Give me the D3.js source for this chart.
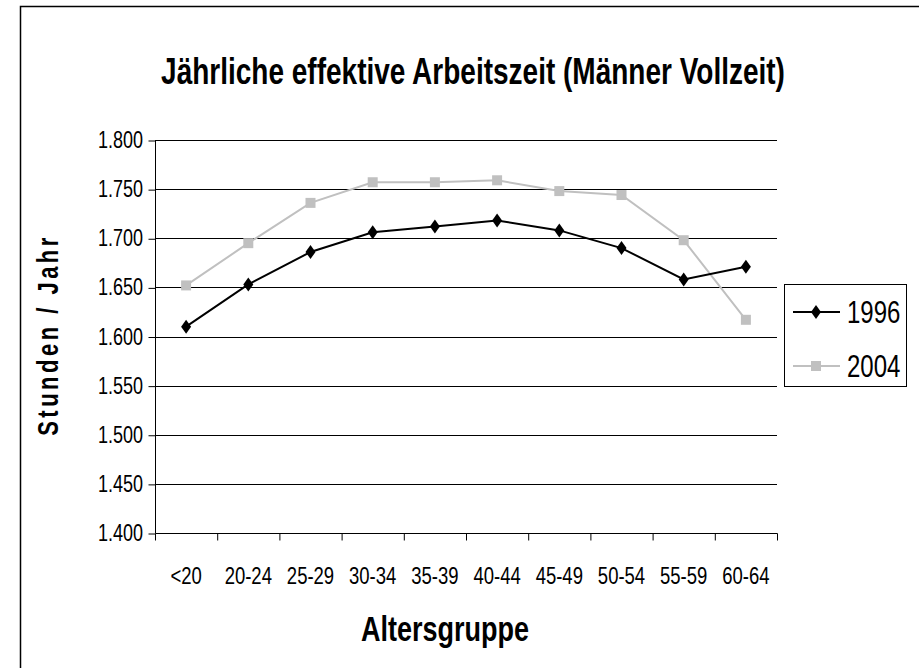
<!DOCTYPE html>
<html>
<head>
<meta charset="utf-8">
<script src="https://cdn.jsdelivr.net/npm/d3@7"></script>
<style>
  body { margin: 0; background: #fff; }
  text { font-family: "Liberation Sans", Arial, sans-serif; fill: #000; }
</style>
</head>
<body>
<svg id="chart" width="919" height="668"></svg>
<script>
// Daten
const ageGroups = ["<20", "20-24", "25-29", "30-34", "35-39", "40-44", "45-49", "50-54", "55-59", "60-64"];
const hours1996 = [1610, 1653, 1686, 1706, 1712, 1718, 1708, 1690, 1658, 1671];
const hours2004 = [1652, 1695, 1736, 1757, 1757, 1759, 1748, 1744, 1698, 1617];
const yTicks = [1400, 1450, 1500, 1550, 1600, 1650, 1700, 1750, 1800];
const seriesNames = ["1996", "2004"];

const fmt = v => d3.format(".3f")(v / 1000);
const stretch = 1.3; // Text im Original vertikal gestreckt

const svg = d3.select("#chart");

// Rahmen (nur links/oben sichtbar)
svg.append("rect")
    .attr("x", 20.5).attr("y", 6.5)
    .attr("width", 940).attr("height", 700)
    .attr("fill", "none")
    .attr("stroke", "#000")
    .attr("stroke-width", 1.5);

const plot = { left: 155, top: 140, right: 777, bottom: 533 };

const x = d3.scaleBand()
    .domain(ageGroups)
    .range([plot.left, plot.right]);

const y = d3.scaleLinear()
    .domain([1400, 1800])
    .range([plot.bottom, plot.top]);

function stretchedText(g, tx, ty, rot) {
    return g.append("text")
        .attr("transform", `translate(${tx},${ty})` + (rot ? ` rotate(${rot})` : "") + ` scale(1,${stretch})`);
}

// Gitterlinien
svg.append("g")
    .selectAll("line")
    .data(yTicks.filter(t => t > 1400))
    .join("line")
    .attr("x1", plot.left).attr("x2", plot.right)
    .attr("y1", d => Math.round(y(d)) + 0.5)
    .attr("y2", d => Math.round(y(d)) + 0.5)
    .attr("stroke", "#000")
    .attr("stroke-width", 1);

// y-Achse
const yAxis = svg.append("g")
    .attr("transform", `translate(${plot.left + 0.5},0.5)`)
    .call(d3.axisLeft(y).tickValues(yTicks).tickSize(7).tickFormat(""));
yAxis.select(".domain").attr("stroke", "#000").attr("d", `M0,${plot.top}V${plot.bottom}`);
yAxis.selectAll(".tick line").attr("stroke", "#000");

yTicks.forEach(t => {
    stretchedText(svg, 143, y(t) + 8, 0)
        .attr("text-anchor", "end")
        .style("font-size", "18px")
        .text(fmt(t));
});

// x-Achse
const xAxis = svg.append("g")
    .attr("transform", `translate(0.5,${plot.bottom + 0.5})`)
    .call(d3.axisBottom(x).tickSize(7).tickFormat(""));
xAxis.select(".domain").attr("stroke", "#000").attr("d", `M${plot.left},0H${plot.right}`);
xAxis.selectAll(".tick line")
    .attr("transform", `translate(${-x.bandwidth() / 2},0)`)
    .attr("stroke", "#000");
xAxis.append("line")
    .attr("x1", plot.right).attr("x2", plot.right)
    .attr("y1", 0).attr("y2", 7)
    .attr("stroke", "#000");

ageGroups.forEach(g => {
    stretchedText(svg, x(g) + x.bandwidth() / 2, 584, 0)
        .attr("text-anchor", "middle")
        .style("font-size", "18.5px")
        .text(g);
});

// Linien
const line = d3.line()
    .x((d, i) => x(ageGroups[i]) + x.bandwidth() / 2)
    .y(d => y(d));

svg.append("path")
    .datum(hours2004)
    .attr("d", line)
    .attr("fill", "none")
    .attr("stroke", "#c0c0c0")
    .attr("stroke-width", 2);

svg.selectAll(".sq")
    .data(hours2004)
    .join("rect")
    .attr("class", "sq")
    .attr("x", (d, i) => x(ageGroups[i]) + x.bandwidth() / 2 - 5)
    .attr("y", d => y(d) - 5)
    .attr("width", 10).attr("height", 10)
    .attr("fill", "#c0c0c0");

svg.append("path")
    .datum(hours1996)
    .attr("d", line)
    .attr("fill", "none")
    .attr("stroke", "#000")
    .attr("stroke-width", 2);

const diamond = "M0,-7L5,0L0,7L-5,0Z";
svg.selectAll(".dm")
    .data(hours1996)
    .join("path")
    .attr("class", "dm")
    .attr("d", diamond)
    .attr("transform", (d, i) => `translate(${x(ageGroups[i]) + x.bandwidth() / 2},${y(d)})`)
    .attr("fill", "#000");

// Legende
const legend = svg.append("g");
legend.append("rect")
    .attr("x", 784.5).attr("y", 284.5)
    .attr("width", 122).attr("height", 102)
    .attr("fill", "#fff")
    .attr("stroke", "#000");

seriesNames.forEach((name, i) => {
    const ly = 312 + i * 54;
    const col = i === 0 ? "#000" : "#c0c0c0";
    legend.append("line")
        .attr("x1", 793).attr("x2", 840)
        .attr("y1", ly).attr("y2", ly)
        .attr("stroke", col).attr("stroke-width", 2);
    if (i === 0) {
        legend.append("path").attr("d", diamond)
            .attr("transform", `translate(816,${ly})`).attr("fill", col);
    } else {
        legend.append("rect").attr("x", 811).attr("y", ly - 5)
            .attr("width", 10).attr("height", 10).attr("fill", col);
    }
    stretchedText(legend, 847, ly + 11, 0)
        .style("font-size", "24px")
        .text(name);
});

// Titel
stretchedText(svg, 473, 84, 0)
    .attr("text-anchor", "middle")
    .style("font-size", "28px")
    .style("font-weight", "bold")
    .text("Jährliche effektive Arbeitszeit (Männer Vollzeit)");

// Achsentitel
stretchedText(svg, 445, 641, 0)
    .attr("text-anchor", "middle")
    .style("font-size", "27px")
    .style("font-weight", "bold")
    .text("Altersgruppe");

stretchedText(svg, 58, 335, -90)
    .attr("text-anchor", "middle")
    .style("font-size", "22px")
    .style("font-weight", "bold")
    .style("letter-spacing", "3.5px")
    .text("Stunden / Jahr");
</script>
</body>
</html>
